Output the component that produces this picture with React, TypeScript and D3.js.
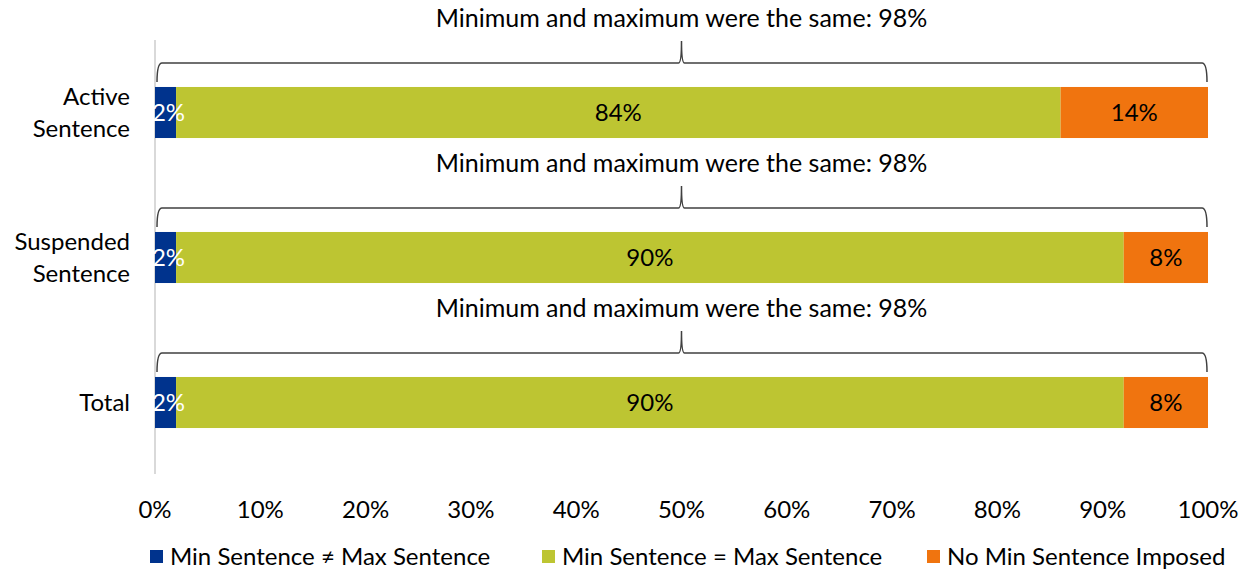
import { useEffect, useRef } from "react";
import * as d3 from "d3";

const categories = [["Active", "Sentence"], ["Suspended", "Sentence"], ["Total"]];
const series = ["Min Sentence ≠ Max Sentence", "Min Sentence = Max Sentence", "No Min Sentence Imposed"];
const notEqual = [2, 2, 2];
const equal = [84, 90, 90];
const noMin = [14, 8, 8];
const sameLabels = [
  "Minimum and maximum were the same: 98%",
  "Minimum and maximum were the same: 98%",
  "Minimum and maximum were the same: 98%",
];
const xTicks = [0, 10, 20, 30, 40, 50, 60, 70, 80, 90, 100];
const colors = ["#00338D", "#BDC532", "#F0740F"];
const labelColors = ["#ffffff", "#000000", "#000000"];

const FONT = "Lato, 'Open Sans', sans-serif";
const FS = "24px";

export default function App() {
  const svgRef = useRef<SVGSVGElement>(null);

  useEffect(() => {
    const svg = d3.select(svgRef.current);
    svg.selectAll("*").remove();

    const left = 155;
    const right = 1208;

    const x = d3.scaleLinear().domain([0, 100]).range([left, right]);
    const y = d3
      .scaleBand<number>()
      .domain(d3.range(categories.length))
      .range([40, 475])
      .paddingInner(0.648)
      .paddingOuter(0.324);

    const stacked = categories.map((_, i) => {
      const vals = [notEqual[i], equal[i], noMin[i]];
      let acc = 0;
      return vals.map((v, k) => {
        const s = { x0: acc, x1: acc + v, v, k };
        acc += v;
        return s;
      });
    });

    // axis line
    svg
      .append("line")
      .attr("x1", left)
      .attr("x2", left)
      .attr("y1", 40)
      .attr("y2", 474)
      .attr("stroke", "#d9d9d9")
      .attr("stroke-width", 2);

    // bars
    stacked.forEach((row, i) => {
      const g = svg.append("g");
      const by = y(i)!;
      const bh = y.bandwidth();
      g.selectAll("rect")
        .data(row)
        .join("rect")
        .attr("x", (d) => x(d.x0))
        .attr("y", by)
        .attr("width", (d) => x(d.x1) - x(d.x0))
        .attr("height", bh)
        .attr("fill", (d) => colors[d.k]);
      g.selectAll("text")
        .data(row)
        .join("text")
        .attr("x", (d) => (x(d.x0) + x(d.x1)) / 2 + (d.k === 0 ? 3 : 0))
        .attr("y", by + bh / 2)
        .attr("dy", "0.35em")
        .attr("text-anchor", "middle")
        .attr("fill", (d) => labelColors[d.k])
        .style("font-family", FONT)
        .style("font-size", FS)
        .text((d) => `${d.v}%`);

      // brace
      const top = by - 24;
      const end = by - 5;
      const mid = x(50);
      const r = 5;
      const x0 = x(0) + 2;
      const x1 = x(100) - 1;
      const p = d3.path();
      p.moveTo(x0, end);
      p.quadraticCurveTo(x0, top, x0 + r, top);
      p.lineTo(mid - 3, top);
      p.quadraticCurveTo(mid, top, mid, top - 22);
      p.quadraticCurveTo(mid, top, mid + 3, top);
      p.lineTo(x1 - r, top);
      p.quadraticCurveTo(x1, top, x1, end);
      svg
        .append("path")
        .attr("d", p.toString())
        .attr("fill", "none")
        .attr("stroke", "#404040")
        .attr("stroke-width", 1.5);

      svg
        .append("text")
        .attr("x", mid)
        .attr("y", top - 45)
        .attr("dy", "0.35em")
        .attr("text-anchor", "middle")
        .style("font-family", FONT)
        .style("font-size", "25px")
        .attr("fill", "#000")
        .text(sameLabels[i]);

      // category label
      const lines = categories[i];
      const t = svg
        .append("text")
        .attr("x", 130)
        .attr("text-anchor", "end")
        .style("font-family", FONT)
        .style("font-size", FS)
        .attr("fill", "#000");
      lines.forEach((ln, j) => {
        t.append("tspan")
          .attr("x", 130)
          .attr("y", by + bh / 2 + (j - (lines.length - 1) / 2) * 32)
          .attr("dy", "0.35em")
          .text(ln);
      });
    });

    // x tick labels
    svg
      .append("g")
      .selectAll("text")
      .data(xTicks)
      .join("text")
      .attr("x", (d) => x(d))
      .attr("y", 510)
      .attr("dy", "0.35em")
      .attr("text-anchor", "middle")
      .style("font-family", FONT)
      .style("font-size", FS)
      .attr("fill", "#000")
      .text((d) => `${d}%`);

    // legend
    const legendX = [150, 542, 927];
    const lg = svg.append("g");
    series.forEach((s, k) => {
      lg.append("rect")
        .attr("x", legendX[k])
        .attr("y", 550)
        .attr("width", 13)
        .attr("height", 13)
        .attr("fill", colors[k]);
      lg.append("text")
        .attr("x", legendX[k] + 20)
        .attr("y", 557)
        .attr("dy", "0.35em")
        .style("font-family", FONT)
        .style("font-size", FS)
        .attr("fill", "#000")
        .text(s);
    });
  }, []);

  return (
    <svg
      ref={svgRef}
      width={1249}
      height={571}
      style={{ position: "absolute", left: 0, top: 0, background: "#fff" }}
    />
  );
}
